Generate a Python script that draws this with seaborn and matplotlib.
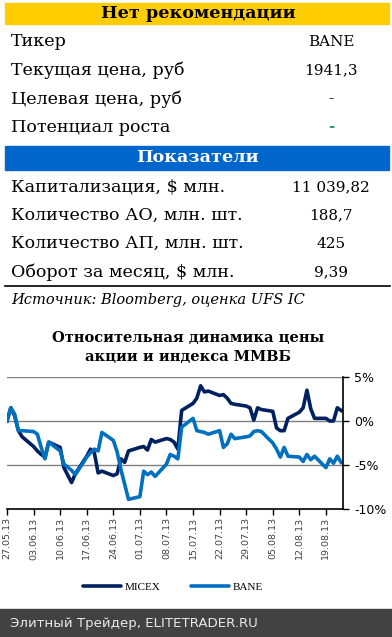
import pandas as pd
import numpy as np
import matplotlib
matplotlib.use('Agg')
import matplotlib.pyplot as plt
import matplotlib.dates as mdates
from matplotlib.patches import Rectangle
from matplotlib.lines import Line2D
import seaborn as sns

# --- data ---
dates = pd.bdate_range('2013-05-27', '2013-08-23')
dates = dates[dates != pd.Timestamp('2013-06-12')]

micex = [0.0, 1.5, 0.6, -1.1, -1.8,
         -2.9, -3.4, -3.8, -4.1, -2.4,
         -3.0, -5.3, -7.0, -6.0,
         -4.0, -3.2, -3.6, -5.9, -5.7,
         -6.2, -6.0, -4.3, -4.7, -3.4,
         -3.0, -2.9, -3.3, -2.1, -2.4,
         -2.0, -2.1, -2.4, -3.2, 1.2,
         2.0, 2.6, 4.0, 3.3, 3.4,
         2.9, 3.0, 2.6, 2.0, 1.9,
         1.7, 1.5, 0.1, 1.5, 1.3,
         1.1, -0.8, -1.1, -1.1, 0.3,
         1.0, 1.5, 3.5, 1.4, 0.3,
         0.3, 0.0, 0.0, 1.5, 1.2]

bane = [0.0, 1.5, 0.8, -1.1, -1.1,
        -1.2, -1.5, -3.0, -4.3, -2.4,
        -3.4, -4.9, -5.6, -6.1,
        -4.1, -3.6, -3.2, -3.4, -1.3,
        -2.2, -3.5, -5.5, -7.2, -8.9,
        -8.6, -5.7, -6.1, -5.8, -6.3,
        -4.9, -3.8, -4.0, -4.3, -0.7,
        0.3, -1.1, -1.2, -1.3, -1.5,
        -1.1, -3.0, -2.6, -1.5, -2.0,
        -1.8, -1.7, -1.2, -1.1, -1.2,
        -2.5, -3.2, -4.1, -3.0, -4.0,
        -4.1, -4.6, -3.8, -4.4, -4.0,
        -5.3, -4.3, -4.8, -4.0, -4.7]

series_names = ['MICEX', 'BANE']
colors = {'MICEX': '#002060', 'BANE': '#0070C0'}

table1_title = 'Нет рекомендации'
table1_labels = ['Тикер', 'Текущая цена, руб', 'Целевая цена, руб', 'Потенциал роста']
table1_values = ['BANE', '1941,3', '-', '-']
table2_title = 'Показатели'
table2_labels = ['Капитализация, $ млн.', 'Количество АО, млн. шт.',
                 'Количество АП, млн. шт.', 'Оборот за месяц, $ млн.']
table2_values = ['11 039,82', '188,7', '425', '9,39']

df = pd.DataFrame({
    'date': list(dates) * 2,
    'value': micex + bane,
    'series': ['MICEX'] * len(micex) + ['BANE'] * len(bane),
})

W, H = 392, 637
fig = plt.figure(figsize=(W / 100, H / 100), dpi=100)


def fx(px):
    return px / W


def fy(py):
    return 1 - py / H


serif = 'DejaVu Serif'

# --- top table ---
fig.patches.append(Rectangle((fx(5), fy(24)), fx(384), 21 / H,
                             transform=fig.transFigure, color='#FFCC00'))
fig.text(fx(198), fy(14), table1_title, ha='center', va='center',
         family=serif, weight='bold', fontsize=12.6, color='black')
for i, (lab, val) in enumerate(zip(table1_labels, table1_values)):
    y = 42 + i * 28.4
    fig.text(fx(11), fy(y), lab, ha='left', va='center', family=serif, fontsize=12.6)
    fig.text(fx(331), fy(y), val, ha='center', va='center', family=serif, fontsize=11,
             color='#339966' if i == 3 else 'black',
             weight='bold' if i == 3 else 'normal')

fig.patches.append(Rectangle((fx(5), fy(170)), fx(384), 24 / H,
                             transform=fig.transFigure, color='#0066CC'))
fig.text(fx(198), fy(158), table2_title, ha='center', va='center',
         family=serif, weight='bold', fontsize=12.6, color='white')
for i, (lab, val) in enumerate(zip(table2_labels, table2_values)):
    y = 187 + i * 28.3
    fig.text(fx(11), fy(y), lab, ha='left', va='center', family=serif, fontsize=12.6)
    fig.text(fx(331), fy(y), val, ha='center', va='center', family=serif, fontsize=11)

fig.add_artist(Line2D([fx(5), fx(390)], [fy(286), fy(286)], color='black', lw=1.2,
                      transform=fig.transFigure))
fig.text(fx(11), fy(300), 'Источник: Bloomberg, оценка UFS IC', ha='left', va='center',
         family=serif, style='italic', fontsize=10.5)

# --- chart ---
fig.text(fx(188), fy(338), 'Относительная динамика цены', ha='center', va='center',
         family=serif, weight='bold', fontsize=10.5)
fig.text(fx(188), fy(357), 'акции и индекса ММВБ', ha='center', va='center',
         family=serif, weight='bold', fontsize=10.5)

ax = fig.add_axes([fx(7), fy(509), fx(343 - 7), (509 - 377) / H])
sns.lineplot(data=df, x='date', y='value', hue='series', palette=colors,
             linewidth=2.6, ax=ax, legend=False)

ax.set_ylim(-10, 5)
ax.set_yticks([5, 0, -5, -10])
ax.set_yticklabels(['5%', '0%', '-5%', '-10%'])
ax.yaxis.tick_right()
ax.set_xlim(pd.Timestamp('2013-05-27'), pd.Timestamp('2013-08-23 12:00'))
ax.xaxis.set_major_locator(mdates.WeekdayLocator(byweekday=mdates.MO))
ax.xaxis.set_major_formatter(mdates.DateFormatter('%d.%m.%y'))
ax.tick_params(axis='x', rotation=90, labelsize=6.8, labelcolor='#404040',
               length=4, width=1, color='black', pad=2)
ax.tick_params(axis='y', labelsize=9, length=4, width=1, color='black', pad=4)
ax.set_xlabel('')
ax.set_ylabel('')
for y in [5, 0, -5]:
    ax.axhline(y, color='#808080', lw=1, zorder=0)
for s in ['top', 'left']:
    ax.spines[s].set_visible(False)
ax.spines['right'].set_color('black')
ax.spines['bottom'].set_color('black')
ax.spines['right'].set_linewidth(1.2)
ax.spines['bottom'].set_linewidth(1.2)
ax.set_facecolor('white')

handles = [Line2D([], [], color=colors[n], lw=2.6, solid_capstyle='round') for n in series_names]
fig.legend(handles, series_names, loc='center', bbox_to_anchor=(fx(173), fy(587)),
           ncol=2, frameon=False, handlelength=3.4, handletextpad=0.3, columnspacing=2.8,
           prop={'family': 'Liberation Serif', 'size': 8})

# --- footer ---
fig.patches.append(Rectangle((0, 0), 1, (H - 609) / H, transform=fig.transFigure,
                             color='#424242'))
fig.text(fx(10), fy(623), 'Элитный Трейдер, ELITETRADER.RU', ha='left', va='center',
         family='DejaVu Sans', fontsize=9.6, color='#e8e8e8')

fig.savefig('out.png', dpi=100, facecolor='white')
